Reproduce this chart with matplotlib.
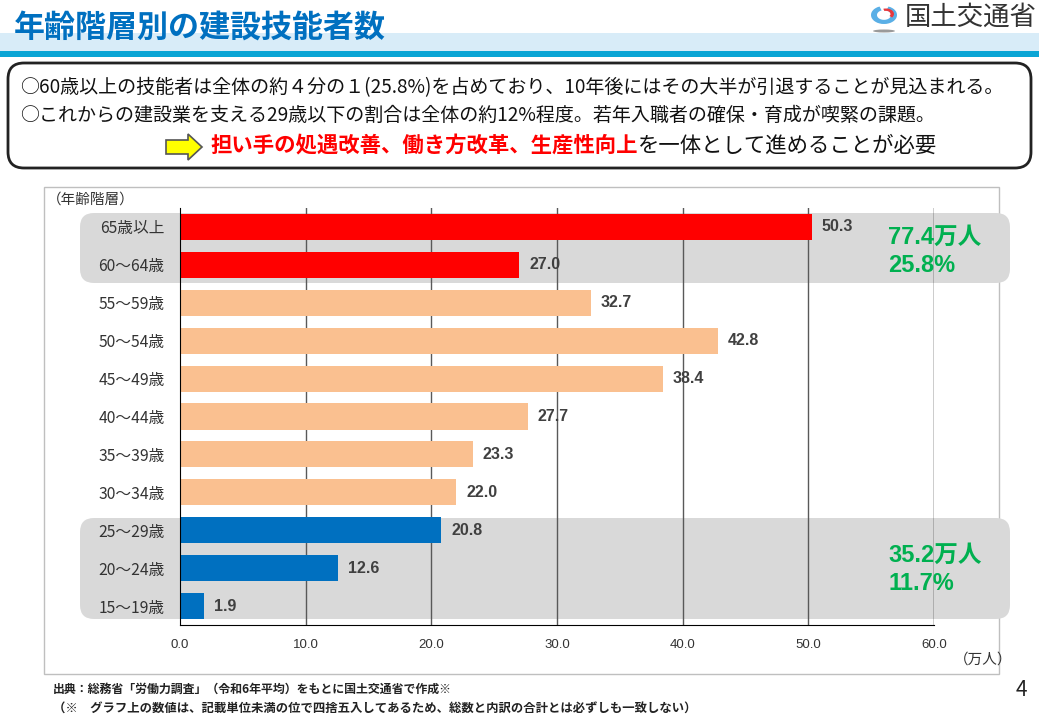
import matplotlib
matplotlib.use("Agg")
import matplotlib.pyplot as plt
from matplotlib.patches import FancyBboxPatch, Rectangle, Polygon, Wedge, Ellipse

plt.rcParams['font.family'] = ['Noto Sans CJK JP', 'DejaVu Sans']

# ---------------- data ----------------
categories = ['65歳以上', '60〜64歳', '55〜59歳', '50〜54歳', '45〜49歳', '40〜44歳',
              '35〜39歳', '30〜34歳', '25〜29歳', '20〜24歳', '15〜19歳']
values = [50.3, 27.0, 32.7, 42.8, 38.4, 27.7, 23.3, 22.0, 20.8, 12.6, 1.9]
groups = ['old', 'old', 'mid', 'mid', 'mid', 'mid', 'mid', 'mid', 'young', 'young', 'young']
xticks = [0, 10, 20, 30, 40, 50, 60]
xtick_labels = ['0.0', '10.0', '20.0', '30.0', '40.0', '50.0', '60.0']
old_total = ['77.4万人', '25.8%']
young_total = ['35.2万人', '11.7%']

group_colors = {'old': '#FF0000', 'mid': '#FAC090', 'young': '#0070C0'}

W, H = 1039, 719
fig = plt.figure(figsize=(W / 100, H / 100), dpi=100)
fig.patch.set_facecolor('white')


def fx(x):
    return x / W


def fy(y):
    return 1 - y / H


def rbox(x0, y0, x1, y1, r, fc, ec='none', lw=0, z=0.5):
    p = FancyBboxPatch((fx(x0), fy(y1)), fx(x1) - fx(x0), fy(y0) - fy(y1),
                       boxstyle=f"round,pad=0,rounding_size={r / W}",
                       transform=fig.transFigure, fc=fc, ec=ec, lw=lw, zorder=z,
                       mutation_aspect=W / H)
    fig.patches.append(p)
    return p


def rect(x0, y0, x1, y1, fc, ec='none', lw=0, z=0.3):
    p = Rectangle((fx(x0), fy(y1)), fx(x1) - fx(x0), fy(y0) - fy(y1),
                  transform=fig.transFigure, fc=fc, ec=ec, lw=lw, zorder=z)
    fig.patches.append(p)
    return p


# ---------------- header ----------------
rect(0, 33, W, 51, '#D8ECF8')
rect(0, 51, W, 57, '#0AA5D5')
fig.text(fx(14), fy(28), '年齢階層別の建設技能者数', fontsize=22.3, fontweight='bold',
         color='#0070C0', ha='left', va='center', zorder=3)

# logo
cx, cy = 884, 15
fig.patches.append(Wedge((fx(cx), fy(cy)), 13 / W, 110, 430, width=6 / W,
                         transform=fig.transFigure, fc='#5AAFE6', ec='none', zorder=3))
fig.patches.append(Wedge((fx(cx + 2), fy(cy - 1)), 8 / W, -40, 110, width=3.5 / W,
                         transform=fig.transFigure, fc='#E8383D', ec='none', zorder=3))
fig.patches.append(Ellipse((fx(cx), fy(31)), 22 / W, 3 / H, transform=fig.transFigure,
                           fc='#9A9A9A', ec='none', zorder=3))
fig.text(fx(905), fy(17), '国土交通省', fontsize=19, color='#333333',
         ha='left', va='center', zorder=3)

# ---------------- summary box ----------------
rbox(8, 63, 1031, 168, 16, 'white', ec='#222222', lw=2, z=1)
fig.text(fx(20), fy(88), '○60歳以上の技能者は全体の約４分の１(25.8%)を占めており、10年後にはその大半が引退することが見込まれる。',
         fontsize=13.7, color='#111111', ha='left', va='center', zorder=3)
fig.text(fx(20), fy(115), '○これからの建設業を支える29歳以下の割合は全体の約12%程度。若年入職者の確保・育成が喫緊の課題。',
         fontsize=13.7, color='#111111', ha='left', va='center', zorder=3)

arrow = Polygon([(fx(166), fy(140)), (fx(188), fy(140)), (fx(188), fy(134)),
                 (fx(202), fy(147)), (fx(188), fy(160)), (fx(188), fy(154)),
                 (fx(166), fy(154))], closed=True, transform=fig.transFigure,
                fc='#FFFF00', ec='#555555', lw=1.2, zorder=3)
fig.patches.append(arrow)
t_red = fig.text(fx(210), fy(146), '担い手の処遇改善、働き方改革、生産性向上', fontsize=15.4,
                 fontweight='bold', color='#FF0000', ha='left', va='center', zorder=3)

# ---------------- chart frame ----------------
rect(44, 187, 999, 674, 'none', ec='#BFBFBF', lw=1, z=0.2)

# gray group boxes
rbox(80, 213, 1010, 283, 14, '#D9D9D9', z=0.5)
rbox(80, 518, 1010, 619, 14, '#D9D9D9', z=0.5)

ax = fig.add_axes([fx(180), fy(625), fx(934) - fx(180), fy(208) - fy(625)])
ax.set_zorder(1)
ax.patch.set_alpha(0)

ypos = list(range(len(categories)))
colors = [group_colors[g] for g in groups]
bars = ax.barh(ypos, values, height=0.69, color=colors, zorder=2)

for yv, v in zip(ypos, values):
    ax.annotate(f'{v:.1f}', xy=(v, yv), xytext=(7, 0), textcoords='offset points',
                ha='left', va='center', fontsize=11.5, fontweight='bold',
                color='#404040', family=['Liberation Sans', 'DejaVu Sans'], zorder=4)

ax.set_xlim(0, 60)
ax.set_ylim(len(categories) - 0.5, -0.5)
ax.set_yticks(ypos)
ax.set_yticklabels(categories, fontsize=11.3, color='#333333')
ax.set_xticks(xticks)
ax.set_xticklabels(xtick_labels, fontsize=9.5, color='#333333',
                   family=['Liberation Sans', 'DejaVu Sans'])
ax.tick_params(axis='y', length=0, pad=11)
ax.tick_params(axis='x', length=0, pad=10)

for xv in xticks[1:-1]:
    ax.axvline(xv, color='#595959', lw=1, zorder=1)
ax.axvline(60, color='#000000', lw=1, zorder=1)
for s in ['top', 'right']:
    ax.spines[s].set_visible(False)
ax.spines['left'].set_color('#000000')
ax.spines['bottom'].set_color('#000000')
ax.spines['left'].set_zorder(3)

green_kw = dict(fontsize=17, fontweight='bold', color='#00B050',
                family=['Liberation Sans', 'Noto Sans CJK JP'], ha='left', va='center', zorder=5)
fig.text(fx(888), fy(237), old_total[0], **green_kw)
fig.text(fx(888), fy(265), old_total[1], **green_kw)
fig.text(fx(888), fy(555), young_total[0], **green_kw)
fig.text(fx(888), fy(584), young_total[1], **green_kw)

fig.text(fx(47), fy(200), '（年齢階層）', fontsize=10.5, color='#333333', ha='left', va='center')
fig.text(fx(1012), fy(660), '（万人）', fontsize=10.5, color='#333333', ha='right', va='center')

# ---------------- footnotes ----------------
fig.text(fx(53), fy(689), '出典：総務省「労働力調査」（令和6年平均）をもとに国土交通省で作成※',
         fontsize=8.6, fontweight='bold', color='#222222', ha='left', va='center')
fig.text(fx(53), fy(708), '（※　グラフ上の数値は、記載単位未満の位で四捨五入してあるため、総数と内訳の合計とは必ずしも一致しない）',
         fontsize=8.9, fontweight='bold', color='#222222', ha='left', va='center')
fig.text(fx(1021), fy(690), '4', fontsize=15, color='#222222', ha='center', va='center')

# black continuation of the highlighted sentence, placed right after the red part
fig.canvas.draw()
bb = t_red.get_window_extent()
fig.text(bb.x1 / W, fy(146), 'を一体として進めることが必要', fontsize=15.4, color='#111111',
         ha='left', va='center', zorder=3)

fig.savefig('out.png', dpi=100, facecolor='white')
